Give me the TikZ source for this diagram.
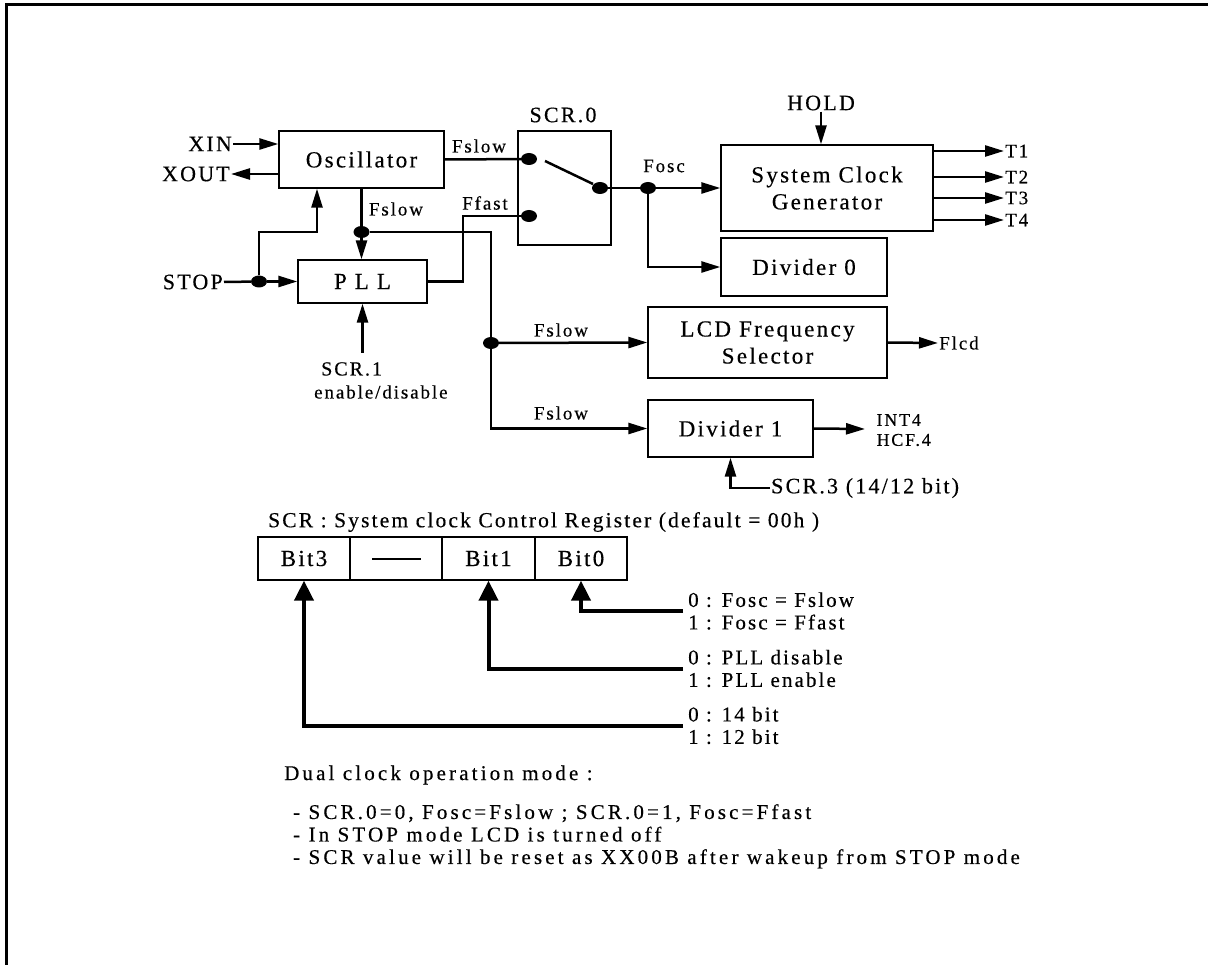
\documentclass[tikz,border=0pt]{standalone}
\usepackage{fontspec}
\setmainfont{Liberation Serif}[LetterSpace=10,FakeBold=0.4]
\usetikzlibrary{arrows.meta,shapes.geometric}
\begin{document}
\begin{tikzpicture}[x=1pt,y=-1pt,
 box/.style={draw,line width=1.3pt,inner sep=0pt,align=center,font=\fontsize{23}{27}\selectfont},
 wire/.style={line width=2.5pt},
 arr/.style={wire,-{Triangle[length=19pt,width=11pt]}},
 bigarr/.style={line width=4pt,-{Triangle[length=20pt,width=19pt]}},
 dot/.style={ellipse,fill,minimum width=16pt,minimum height=12pt,inner sep=0pt},
 lbl/.style={inner sep=1pt,font=\fontsize{19}{23}\selectfont},
 big/.style={inner sep=1pt,font=\fontsize{22}{25}\selectfont},
 cell/.style={draw,line width=1.3pt,minimum width=92pt,minimum height=43pt,inner sep=0pt,font=\fontsize{23}{26}\selectfont},
 note/.style={inner sep=0pt,anchor=west,align=left,font=\fontsize{21}{22.5}\selectfont\addfontfeature{LetterSpace=15}},
 bitlbl/.style={inner xsep=5pt,inner ysep=0pt,anchor=west,align=left,font=\fontsize{21}{22.5}\selectfont},
 small/.style={anchor=west,inner ysep=0pt,font=\fontsize{18}{19}\selectfont},
]
\useasboundingbox (0,0) rectangle (1208,965);
\draw[line width=3pt] (6,965) -- (6,5) -- (1208,5);

% oscillator
\node[box,minimum width=165pt,minimum height=57pt] (osc) at (361.5,159.5) {Oscillator};
\node[big,anchor=east] (xin) at (233,144) {XIN};
\node[big,anchor=east] (xout) at (231,174) {XOUT};
\draw[arr] (xin.east) -- (xin.east -| osc.west);
\draw[arr] (xout.east -| osc.west) -- (xout.east);

% switch
\node[box,minimum width=93pt,minimum height=114pt] (sw) at (564.5,188) {};
\node[big] (scr0) at (563,115) {SCR.0};
\node[dot] (s1) at (529,159) {};
\node[dot] (s2) at (529,216) {};
\node[dot] (s3) at (600,188) {};
\draw[wire] (545,161) -- (593,184);
\draw[wire] (osc.east) -- (s1);
\node[lbl] (fsl1) at (479,146) {Fslow};

% Fosc
\node[dot] (fosc) at (648,188) {};
\draw[wire] (s3) -- (fosc);
\node[lbl] (fosclbl) at (664,166) {Fosc};
\node[box,minimum width=212pt,minimum height=86pt] (scg) at (827,188) {System Clock\\Generator};
\draw[arr] (fosc) -- (scg.west);
\node[box,minimum width=166pt,minimum height=58pt] (div0) at (804,267) {Divider 0};
\draw[arr] (fosc) |- (div0.west);
\node[big] (hold) at (821,103) {HOLD};
\draw[arr] (hold.south) -- (hold.south |- scg.north);
\foreach \t/\yy in {1/151,2/177,3/198,4/220}{
  \node[lbl,anchor=west] (t\t) at (1004,\yy) {T\t};
  \draw[arr] (scg.east |- t\t.west) -- (t\t.west);
}

% PLL
\node[box,minimum width=129pt,minimum height=43pt] (pll) at (362.5,281.5) {P L L};
\node[dot] (fs) at (361.5,232) {};
\draw[wire] (osc.south) -- (fs);
\draw[arr] (fs) -- (fs |- pll.north);
\node[lbl] (fsl2) at (396,209) {Fslow};
\coordinate (ff) at (463,216);
\draw[wire] (pll.east) -| (ff) -- (s2);
\node[lbl] (ffast) at (485,203) {Ffast};

% STOP
\node[big,anchor=east] (stop) at (224,282) {STOP};
\node[dot] (st) at (259,281.5) {};
\draw[wire] (stop.east) -- (st);
\draw[arr] (st) -- (pll.west);
\coordinate (k1) at (317,232);
\draw[arr] (st) |- (k1) -- (k1 |- osc.south);

% SCR.1
\node[lbl,anchor=west,font=\fontsize{20}{23}\selectfont] (scr1) at (320,369) {SCR.1};
\node[lbl,anchor=west] (en) at (313,392) {enable/disable};
\coordinate (a1) at (362.5,353);
\draw[arr] (a1) -- (pll.south);

% LCD and divider 1
\node[box,minimum width=239pt,minimum height=71pt] (lcd) at (767.5,342.5) {LCD Frequency\\Selector};
\node[box,minimum width=165pt,minimum height=57pt] (div1) at (730.5,428.5) {Divider 1};
\node[dot] (j2) at (491,343) {};
\draw[wire] (fs) -| (j2);
\draw[arr] (j2) -- (lcd.west);
\draw[arr] (j2) |- (div1.west);
\node[lbl] (fsl3) at (561,330) {Fslow};
\node[lbl] (fsl4) at (561,413) {Fslow};
\node[lbl,anchor=west] (flcd) at (938,343) {Flcd};
\draw[arr] (lcd.east) -- (flcd.west);
\coordinate (o1) at (865,429);
\draw[arr] (div1.east) -- (o1);
\node[small] (int4) at (873,420) {INT4};
\node[small] (hcf) at (873,440) {HCF.4};
\node[lbl,anchor=west,font=\fontsize{22}{23}\selectfont] (scr3) at (770,488) {SCR.3 (14/12 bit)};
\draw[arr] (scr3.west) -| (div1.south);

% register
\node[anchor=west,inner sep=0pt,font=\fontsize{21.5}{24}\selectfont] (title) at (268,522) {SCR : System clock Control Register (default = 00h )};
\node[cell] (r3) at (304,558.5) {Bit3};
\node[cell] (rn) at (396,558.5) {};
\node[cell] (r1) at (488.5,558.5) {Bit1};
\node[cell] (r0) at (581,558.5) {Bit0};
\draw[line width=2pt] ([xshift=-24pt]rn.center) -- ([xshift=25pt]rn.center);
\node[bitlbl] (l0) at (683,611) {0 : Fosc = Fslow\\1 : Fosc = Ffast};
\node[bitlbl] (l1) at (683,668.5) {0 : PLL disable\\1 : PLL enable};
\node[bitlbl] (l3) at (683,725.5) {0 : 14 bit\\1 : 12 bit};
\draw[bigarr] (l0.west) -| (r0.south);
\draw[bigarr] (l1.west) -| (r1.south);
\draw[bigarr] (l3.west) -| (r3.south);

% notes
\node[note] (n0) at (284,775) {Dual clock operation mode :};
\node[note,anchor=north west] (n1) at (293,804) {- SCR.0=0, Fosc=Fslow ; SCR.0=1, Fosc=Ffast\\- In STOP mode LCD is turned off\\- SCR value will be reset as XX00B after wakeup from STOP mode};
\end{tikzpicture}
\end{document}
